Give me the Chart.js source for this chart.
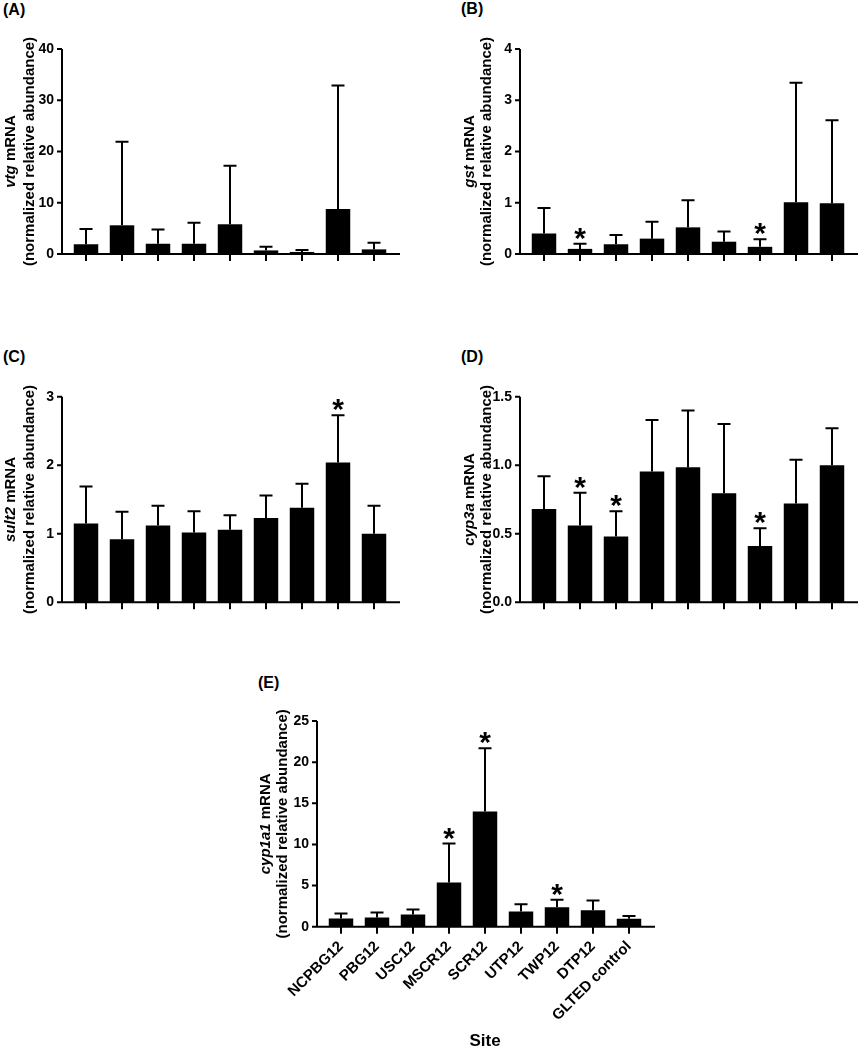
<!DOCTYPE html>
<html>
<head>
<meta charset="utf-8">
<script src="https://cdn.jsdelivr.net/npm/chart.js@4.4.1/dist/chart.umd.min.js"></script>
<style>
  body { margin: 0; background: #fff; }
  #page { position: relative; width: 859px; height: 1050px; font-family: 'Liberation Sans', Arial, sans-serif; }
  canvas { position: absolute; }
  .tag { position: absolute; font-weight: bold; font-size: 16px; color: #000; }
</style>
</head>
<body>
<div id="page">
  <div class="tag" style="left:3px;top:1px">(A)</div>
  <div class="tag" style="left:461px;top:0px">(B)</div>
  <div class="tag" style="left:3px;top:348px">(C)</div>
  <div class="tag" style="left:461px;top:348px">(D)</div>
  <div class="tag" style="left:258px;top:674px">(E)</div>
  <canvas id="chartA" style="left:0px;top:0px" width="430" height="290"></canvas>
  <canvas id="chartB" style="left:430px;top:0px" width="429" height="290"></canvas>
  <canvas id="chartC" style="left:0px;top:330px" width="430" height="300"></canvas>
  <canvas id="chartD" style="left:430px;top:330px" width="429" height="300"></canvas>
  <canvas id="chartE" style="left:240px;top:640px" width="420" height="410"></canvas>
</div>
<script>
// sites (same order in every panel)
const sites = ['NCPBG12', 'PBG12', 'USC12', 'MSCR12', 'SCR12', 'UTP12', 'TWP12', 'DTP12', 'GLTED control'];

// (A) vtg
const vtgMean = [1.9, 5.6, 2.0, 2.0, 5.8, 0.7, 0.4, 8.8, 0.9];
const vtgSd = [3.0, 16.3, 2.8, 4.1, 11.4, 0.7, 0.4, 24.1, 1.3];
const vtgStars = [];

// (B) gst
const gstMean = [0.40, 0.10, 0.19, 0.30, 0.52, 0.24, 0.14, 1.01, 0.99];
const gstSd = [0.50, 0.10, 0.18, 0.33, 0.53, 0.20, 0.15, 2.33, 1.62];
const gstStars = [1, 6];

// (C) sult2
const sultMean = [1.15, 0.92, 1.12, 1.02, 1.06, 1.23, 1.38, 2.04, 1.00];
const sultSd = [0.54, 0.40, 0.29, 0.31, 0.21, 0.33, 0.35, 0.69, 0.41];
const sultStars = [7];

// (D) cyp3a
const cyp3aMean = [0.68, 0.56, 0.48, 0.955, 0.985, 0.795, 0.41, 0.72, 1.00];
const cyp3aSd = [0.24, 0.24, 0.185, 0.375, 0.415, 0.505, 0.13, 0.32, 0.27];
const cyp3aStars = [1, 2, 6];

// (E) cyp1a1
const cyp1a1Mean = [1.0, 1.12, 1.48, 5.37, 14.0, 1.84, 2.36, 2.0, 0.97];
const cyp1a1Sd = [0.6, 0.6, 0.6, 4.73, 7.7, 0.88, 0.93, 1.17, 0.32];
const cyp1a1Stars = [3, 4, 6];

const FONT = "'Liberation Sans', Arial, sans-serif";

// axes lines, error bars, stars and the two-line y title
const panelPlugin = {
  id: 'panel',
  afterDatasetsDraw(chart, args, opts) {
    const ctx = chart.ctx;
    const area = chart.chartArea;
    const yScale = chart.scales.y;
    const x0 = area.left - 6;
    ctx.save();
    ctx.strokeStyle = '#000';
    ctx.fillStyle = '#000';
    ctx.lineWidth = 2;

    const meta = chart.getDatasetMeta(0);
    const means = chart.data.datasets[0].data;
    meta.data.forEach((bar, i) => {
      const top = yScale.getPixelForValue(means[i] + opts.sd[i]);
      ctx.beginPath();
      ctx.moveTo(bar.x, bar.y);
      ctx.lineTo(bar.x, top);
      ctx.moveTo(bar.x - 6.5, top);
      ctx.lineTo(bar.x + 6.5, top);
      ctx.stroke();
      if (opts.stars.includes(i)) {
        ctx.font = 'bold 30px ' + FONT;
        ctx.textAlign = 'center';
        ctx.textBaseline = 'alphabetic';
        ctx.fillText('*', bar.x, top + 4);
      }
    });

    // axis lines
    ctx.beginPath();
    ctx.moveTo(x0, area.top);
    ctx.lineTo(x0, area.bottom);
    ctx.moveTo(x0 - 1, area.bottom);
    ctx.lineTo(area.right + 8, area.bottom);
    yScale.ticks.forEach(t => {
      const py = yScale.getPixelForValue(t.value);
      ctx.moveTo(x0 - 5, py);
      ctx.lineTo(x0, py);
    });
    ctx.stroke();

    // y title: italic gene name + " mRNA", then second line
    const cy = (area.top + area.bottom) / 2;
    const italic = 'italic bold 15px ' + FONT;
    const plain = 'bold 15px ' + FONT;
    ctx.textBaseline = 'alphabetic';
    ctx.save();
    ctx.translate(opts.titleX[0], cy);
    ctx.rotate(-Math.PI / 2);
    ctx.font = italic;
    const w1 = ctx.measureText(opts.gene).width;
    ctx.font = plain;
    const w2 = ctx.measureText(' mRNA').width;
    const start = -(w1 + w2) / 2;
    ctx.textAlign = 'left';
    ctx.font = italic;
    ctx.fillText(opts.gene, start, 0);
    ctx.font = plain;
    ctx.fillText(' mRNA', start + w1, 0);
    ctx.restore();

    ctx.save();
    ctx.translate(opts.titleX[1], cy);
    ctx.rotate(-Math.PI / 2);
    ctx.font = plain;
    ctx.textAlign = 'center';
    ctx.fillText('(normalized relative abundance)', 0, 0);
    ctx.restore();

    ctx.restore();
  }
};

function makeChart(id, means, sd, stars, cfg) {
  const ctx = document.getElementById(id).getContext('2d');
  return new Chart(ctx, {
    type: 'bar',
    data: {
      labels: sites,
      datasets: [{
        data: means,
        backgroundColor: '#000',
        borderWidth: 0,
        barPercentage: 0.68,
        categoryPercentage: 1.0,
      }],
    },
    options: {
      responsive: false,
      animation: false,
      layout: { padding: cfg.padding },
      plugins: {
        legend: { display: false },
        tooltip: { enabled: false },
        panel: { sd: sd, stars: stars, gene: cfg.gene, titleX: cfg.titleX },
      },
      scales: {
        x: {
          offset: true,
          border: { display: false },
          grid: {
            display: true, drawOnChartArea: false, drawTicks: true,
            tickLength: 7, color: '#000', lineWidth: 2, offset: false,
          },
          ticks: {
            display: cfg.showLabels,
            autoSkip: false,
            minRotation: 45,
            maxRotation: 45,
            padding: 4,
            color: '#000',
            font: { family: FONT, size: 15, weight: 'bold' },
          },
          title: {
            display: cfg.showLabels,
            text: 'Site',
            color: '#000',
            padding: { top: 4, bottom: -2 },
            font: { family: FONT, size: 17, weight: 'bold' },
          },
          afterFit(scale) { scale.height = cfg.xHeight; },
        },
        y: {
          min: 0,
          max: cfg.max,
          border: { display: false },
          grid: { display: false, drawTicks: false },
          ticks: {
            stepSize: cfg.step,
            padding: 14,
            color: '#000',
            font: { family: FONT, size: 14, weight: 'bold' },
            callback: cfg.fmt,
          },
          afterFit(scale) { scale.width = cfg.yWidth; },
        },
      },
    },
    plugins: [panelPlugin],
  });
}

const intFmt = v => String(v);

makeChart('chartA', vtgMean, vtgSd, vtgStars, {
  gene: 'vtg', titleX: [15, 34], max: 40, step: 10, fmt: intFmt,
  padding: { left: 0, top: 49, right: 38, bottom: 0 }, yWidth: 68, xHeight: 36, showLabels: false,
});
makeChart('chartB', gstMean, gstSd, gstStars, {
  gene: 'gst', titleX: [474, 491].map(v => v - 430), max: 4, step: 1, fmt: intFmt,
  padding: { left: 0, top: 49, right: 9, bottom: 0 }, yWidth: 96, xHeight: 36, showLabels: false,
});
makeChart('chartC', sultMean, sultSd, sultStars, {
  gene: 'sult2', titleX: [15, 34], max: 3, step: 1, fmt: intFmt,
  padding: { left: 0, top: 66.7, right: 38, bottom: 0 }, yWidth: 68, xHeight: 27.7, showLabels: false,
});
makeChart('chartD', cyp3aMean, cyp3aSd, cyp3aStars, {
  gene: 'cyp3a', titleX: [474, 491].map(v => v - 430), max: 1.5, step: 0.5, fmt: v => v.toFixed(1),
  padding: { left: 0, top: 66.7, right: 9, bottom: 0 }, yWidth: 96, xHeight: 27.7, showLabels: false,
});
makeChart('chartE', cyp1a1Mean, cyp1a1Sd, cyp1a1Stars, {
  gene: 'cyp1a1', titleX: [270, 287].map(v => v - 240), max: 25, step: 5, fmt: intFmt,
  padding: { left: 0, top: 81, right: 13, bottom: 0 }, yWidth: 83, xHeight: 123.3, showLabels: true,
});
</script>
</body>
</html>
